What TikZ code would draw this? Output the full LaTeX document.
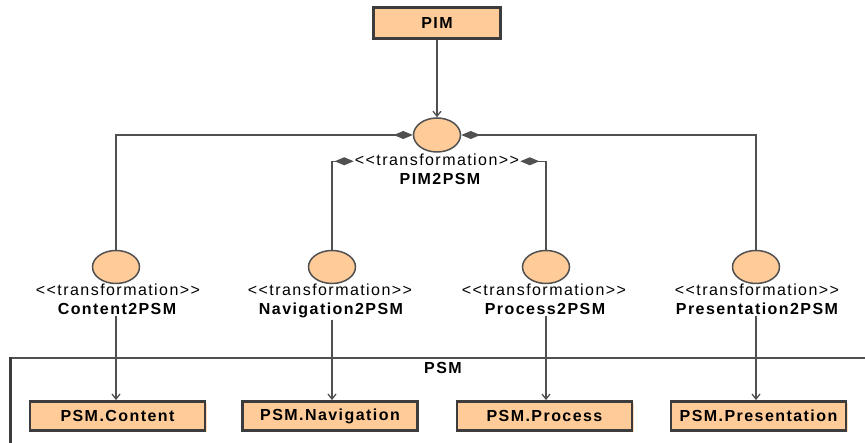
\documentclass[tikz,border=0pt]{standalone}
\usepackage{fontspec}
\setmainfont[LetterSpace=9]{Liberation Sans}
\usetikzlibrary{arrows.meta,shapes.geometric,shadows}
\definecolor{umlfill}{HTML}{FFCC99}
\definecolor{umlline}{HTML}{505050}
\definecolor{umlborder}{HTML}{3C3C3C}
\def\Ry{267}
\def\Sy{296}
\def\Ny{315}
\def\By{416}

\tikzset{
  umltext/.style={font=\fontsize{16}{19}\selectfont, inner sep=1pt},
  stereo/.style={umltext, anchor=base},
  tname/.style={umltext, font=\fontsize{16}{19}\selectfont\bfseries, anchor=base},
  trans/.style={ellipse, draw=umlline, line width=1.5pt, fill=umlfill, minimum width=47pt, minimum height=33pt, inner sep=0pt},
  model/.style={umltext, font=\fontsize{16}{19}\selectfont\bfseries, draw=umlborder, line width=2.8pt, fill=umlfill, minimum width=175pt, minimum height=29pt, inner sep=0pt,
    drop shadow={shadow xshift=1.5pt, shadow yshift=-1.5pt, fill=umlfill!70, opacity=1}},
  link/.style={draw=umlline, line width=1.5pt},
  comp/.style={link, -{Diamond[length=19pt,width=8pt]}},
  dep/.style={link, -{Straight Barb[length=5pt,width=8pt,line width=1.3pt]}}
}

\begin{document}
\begin{tikzpicture}[x=1pt, y=-1pt]
\useasboundingbox (0,0) rectangle (865,443);

% package PSM
\draw[umlline, line width=1.6pt] (9,358) -- (865,358);
\draw[umlborder, line width=3pt] (10,357.2) -- (10,443);
\node[tname] (psm) at (443,374) {PSM};

\node[model, minimum width=127pt, minimum height=31pt] (pim) at (437,23) {PIM};

% transformations
\node[trans, minimum height=34pt] (tr0) at (437,135) {};
\node[stereo] (st0) at (437,166) {<{}<transformation>{}>};
\node[tname] (n0) at (440,185) {PIM2PSM};

\node[trans] (tr1) at (116,\Ry) {};
\node[trans] (tr2) at (332,\Ry) {};
\node[trans] (tr3) at (546,\Ry) {};
\node[trans] (tr4) at (756,\Ry) {};

\node[stereo] (st1) at (118,\Sy) {<{}<transformation>{}>};
\node[stereo] (st2) at (330,\Sy) {<{}<transformation>{}>};
\node[stereo] (st3) at (544,\Sy) {<{}<transformation>{}>};
\node[stereo] (st4) at (757,\Sy) {<{}<transformation>{}>};

\node[tname] (n1) at (117,\Ny) {Content2PSM};
\node[tname] (n2) at (331,\Ny) {Navigation2PSM};
\node[tname] (n3) at (545,\Ny) {Process2PSM};
\node[tname] (n4) at (757,\Ny) {Presentation2PSM};

% target models
\node[model] (b1) at (117.5,\By) {PSM.Content};
\node[model] (b2) at (330,\By) {PSM.Navigation};
\node[model] (b3) at (544.5,\By) {PSM.Process};
\node[model] (b4) at (758.5,\By) {PSM.Presentation};

% connectors
\draw[dep] (pim) -- (tr0);
\draw[comp] (tr1.north) |- (tr0.west);
\draw[comp] (tr4.north) |- (tr0.east);
\draw[comp] (tr2.north) |- ([yshift=-1pt]st0.west);
\draw[comp] (tr3.north) |- ([yshift=-1pt]st0.east);

\draw[dep] (n1.south -| tr1) -- (b1.north -| tr1);
\draw[dep] (n2.south -| tr2) -- (b2.north -| tr2);
\draw[dep] (n3.south -| tr3) -- (b3.north -| tr3);
\draw[dep] (n4.south -| tr4) -- (b4.north -| tr4);
\end{tikzpicture}
\end{document}
